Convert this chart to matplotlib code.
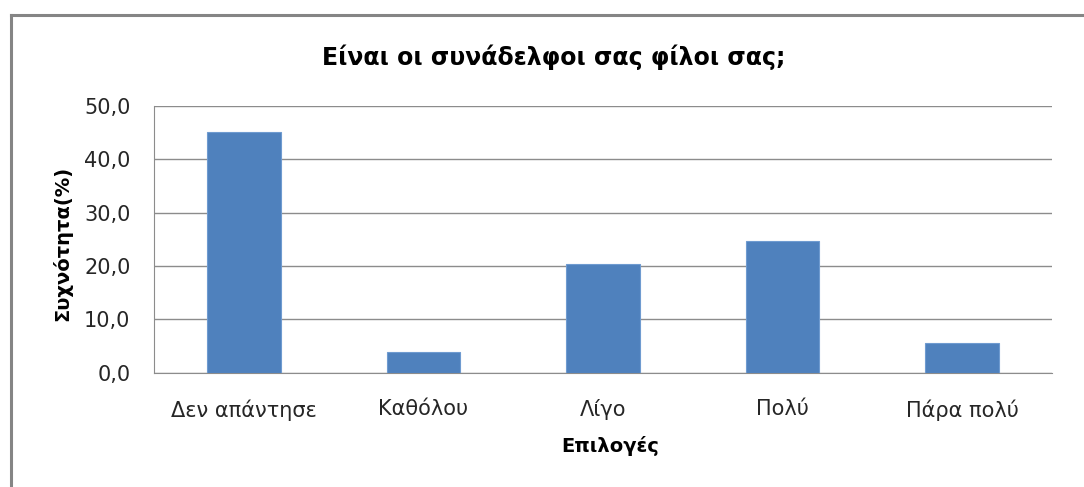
import matplotlib
matplotlib.use("Agg")
import matplotlib.pyplot as plt
from matplotlib.lines import Line2D
from matplotlib.ticker import FuncFormatter

# Data
categories = ["Δεν απάντησε", "Καθόλου", "Λίγο", "Πολύ", "Πάρα πολύ"]
values = [45.2, 3.8, 20.3, 24.6, 5.5]
y_ticks = [0, 10, 20, 30, 40, 50]

title = "Είναι οι συνάδελφοι σας φίλοι σας;"
x_label = "Επιλογές"
y_label = "Συχνότητα(%)"

plt.rcParams['font.family'] = ['DejaVu Sans']

W, H = 1084, 487
fig = plt.figure(figsize=(W / 100, H / 100), dpi=100, facecolor='white')

# plot area in pixel coords of the reference
left, right, top, bottom = 154, 1052, 106, 372.7
ax = fig.add_axes([left / W, 1 - bottom / H, (right - left) / W, (bottom - top) / H])

x = range(len(categories))
ax.bar(x, values, width=0.41, color='#4f81bd', edgecolor='#6f9bd0', linewidth=0.8, zorder=3)

ax.set_xlim(-0.5, len(categories) - 0.5)
ax.set_ylim(0, 50)
ax.set_yticks(y_ticks)
ax.yaxis.set_major_formatter(FuncFormatter(lambda v, p: f"{v:.1f}".replace(".", ",")))
ax.set_xticks(list(x))
ax.set_xticklabels(categories)

ax.grid(axis='y', color='#8c8c8c', linewidth=1.0, zorder=0)
for side in ['top', 'right']:
    ax.spines[side].set_visible(False)
ax.spines['left'].set_color('#8c8c8c')
ax.spines['bottom'].set_color('#8c8c8c')
ax.tick_params(axis='both', length=0, labelsize=15, labelcolor='#262626')
ax.tick_params(axis='y', pad=17)
ax.tick_params(axis='x', pad=19)

# titles placed in figure coords
fig.text(554 / W, 1 - 57 / H, title, ha='center', va='center',
         fontsize=17, fontweight='bold', color='black')
fig.text(610 / W, 1 - 446 / H, x_label, ha='center', va='center',
         fontsize=14, fontweight='bold', color='black')
fig.text(62 / W, 1 - 243 / H, y_label, ha='center', va='center', rotation=90,
         fontsize=14, fontweight='bold', color='black')

# chart frame (left and top edges visible only)
frame_col = '#858585'
fig.add_artist(Line2D([10.5 / W, 10.5 / W], [0, 1 - 14.5 / H], transform=fig.transFigure,
                      color=frame_col, linewidth=2.2))
fig.add_artist(Line2D([10.5 / W, 1], [1 - 14.5 / H, 1 - 14.5 / H], transform=fig.transFigure,
                      color=frame_col, linewidth=2.2))

fig.savefig("out.png", dpi=100, facecolor='white')
